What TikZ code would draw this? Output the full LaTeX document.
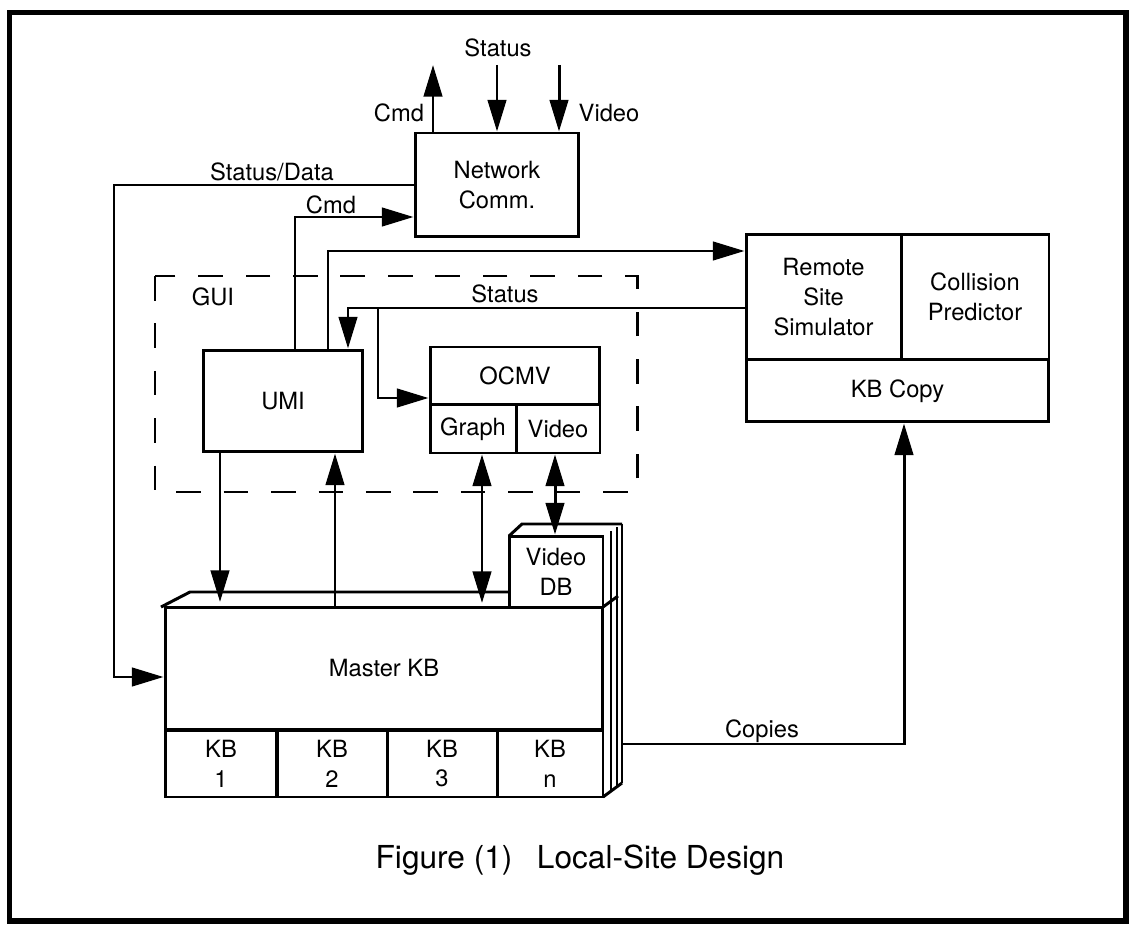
\documentclass[tikz,border=0pt]{standalone}
\usepackage{fontspec}
\setmainfont{TeX Gyre Heros}
\usetikzlibrary{arrows.meta}

\begin{document}
\begin{tikzpicture}[x=.02cm,y=-.02cm,line join=miter,>={Triangle[length=18pt,width=10.5pt]},
		box/.style={draw,line width=1.7pt,inner sep=0pt,align=center,font=\fontsize{13.5}{17}\selectfont},
		lbl/.style={inner sep=0pt,font=\fontsize{13.5}{17}\selectfont},
		wire/.style={line width=1.7pt}]
	\useasboundingbox (0,0) rectangle (1129,925);
	\draw[line width=3pt] (9.5,12.5) rectangle (1126,921);
	% boxes
	\node[box,minimum width=3.28cm,minimum height=2.08cm] (net) at (497,185) {Network\\Comm.};
	\node[box,minimum width=3.2cm,minimum height=2.04cm] (umi) at (283,401) {UMI};
	\node[box,minimum width=3.4cm,minimum height=1.16cm] (ocmv) at (515,376) {OCMV};
	\node[box,minimum width=1.72cm,minimum height=.96cm] (graph) at (473,429) {Graph};
	\node[box,minimum width=1.68cm,minimum height=.96cm] (video) at (558,429) {Video};
	\node[box,minimum width=3.1cm,minimum height=2.52cm] (rss) at (823.5,297) {Remote\\Site\\Simulator};
	\node[box,minimum width=2.96cm,minimum height=2.52cm] (cp) at (975,297) {Collision\\Predictor};
	\node[box,minimum width=6.06cm,minimum height=1.24cm] (kbc) at (897.5,391) {KB Copy};
	\node[box,minimum width=8.76cm,minimum height=2.46cm] (mkb) at (384,668.5) {Master KB};
	\foreach \i/\x/\w in {1/221/2.24cm,2/332/2.2cm,3/442/2.2cm,n/550/2.12cm}
		\node[box,minimum width=\w,minimum height=1.34cm] (kb\i) at (\x,763.5) {KB\\\i};
	\node[box,minimum width=1.88cm,minimum height=1.42cm] (vdb) at (556,571.5) {Video\\DB};
	% stacked pages
	\draw[wire] (161,607) -- (190,592) -- (509,592);
	\draw[wire] (509,536) -- (522,524) -- (622,524);
	\draw[wire] (603,607) -- (618,596);
	\foreach \d in {8,14,19}
		\draw[line width=1.4pt] (603+\d,536-\d*.63) -- (603+\d,797-\d*.74);
	\draw[wire] (603,797) -- (622,783);
	% GUI
	\draw[wire,dash pattern=on 14pt off 13pt] (155,276) rectangle (637,492);
	\node[lbl] (gui) at (213,297) {GUI};
	% outside links
	\coordinate (cmdout) at (433,65);
	\coordinate (statin) at (497,65);
	\coordinate (vidin) at (559,65);
	\draw[wire,->] (cmdout |- net.north) -- (cmdout);
	\draw[wire,->] (statin) -- (statin |- net.north);
	\draw[wire,->] (vidin) -- (vidin |- net.north);
	\node[lbl] at (399,113) {Cmd};
	\node[lbl] at (498,48) {Status};
	\node[lbl] at (609,113) {Video};
	% local links
	\draw[wire,->] (net.west) -| (114,677) -- (mkb.west |- 114,677);
	\node[lbl] at (272,172) {Status/Data};
	\draw[wire,->] (295,0 |- umi.north) |- (net.west |- 0,217);
	\node[lbl] at (331,205) {Cmd};
	\draw[wire,->] (328,0 |- umi.north) |- (rss.west |- 0,251);
	\draw[wire,->] (rss.west |- 0,308) -| (348,0 |- umi.north);
	\draw[wire,->] (378,308) |- (ocmv.west |- 0,398);
	\node[lbl] at (505,294) {Status};
	\draw[wire,->] (220,0 |- umi.south) -- (220,602);
	\draw[wire,->] (335,0 |- mkb.north) -- (335,0 |- umi.south);
	\draw[wire,<->] (482,0 |- graph.south) -- (482,603);
	\draw[wire,<->] (555,0 |- video.south) -- (555,0 |- vdb.north);
	\coordinate (stk) at (622,744);
	\draw[wire,->] (stk) -| (904,0 |- kbc.south);
	\node[lbl] at (762,731) {Copies};
	\node[font=\fontsize{18}{21}\selectfont] (title) at (580,860) {Figure (1)\hspace{14pt}Local-Site Design};
\end{tikzpicture}
\end{document}
